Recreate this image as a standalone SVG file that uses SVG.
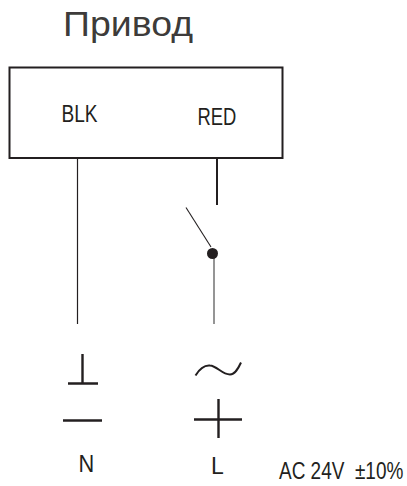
<svg xmlns="http://www.w3.org/2000/svg" width="407" height="486" viewBox="0 0 407 486">
<style>
text{font-family:"Liberation Sans",Arial,sans-serif;fill:#231f20;white-space:pre}
.l{fill:none;stroke:#231f20;stroke-linecap:butt}
</style>
<rect width="407" height="486" fill="#fff"/>
<g id="title"><text x="63" y="35.5" font-size="35.5" fill-opacity=".9" textLength="130" lengthAdjust="spacingAndGlyphs">Привод</text></g>
<g id="actuator">
<rect x="9.5" y="67.5" width="273" height="90.5" class="l" stroke-width="2"/>
<text transform="translate(61.5 121.5) scale(.83 1)" font-size="23">BLK</text>
<text transform="translate(197.5 125) scale(.8 1)" font-size="23">RED</text>
</g>
<g id="connectors">
<line x1="77.5" y1="159" x2="77.5" y2="324" class="l" stroke-width="1.2"/>
<line x1="217" y1="159" x2="217" y2="205" class="l" stroke-width="2"/>
<line x1="186" y1="207.5" x2="211" y2="247" class="l" stroke-width="1.1"/>
<line x1="214" y1="254" x2="214" y2="324" stroke="#8a8a8a" stroke-width="1.8"/>
</g>
<g id="switch-pivot"><circle cx="212.5" cy="253.5" r="5.5" fill="#231f20"/></g>
<g id="neutral-symbol">
<path d="M82.5 354V383M68 383.5H98" class="l" stroke-width="2.4"/>
<path d="M63 420.5H102" class="l" stroke-width="2.4"/>
<text transform="translate(78.5 472) scale(.95 1)" font-size="23">N</text>
</g>
<g id="live-symbol">
<path d="M195.5 375.5C200 368 205 365 210 365.5C217 366 222 374.5 230 374.5C235 374.5 238 369 241 362.5" class="l" stroke-width="2"/>
<path d="M194 419.5H242M218.5 399V438" class="l" stroke-width="2.4"/>
<text transform="translate(211 474)" font-size="23">L</text>
</g>
<g id="voltage"><text transform="translate(279 479.3) scale(.825 1)" font-size="23">AC 24V  ±10%</text></g>
</svg>
